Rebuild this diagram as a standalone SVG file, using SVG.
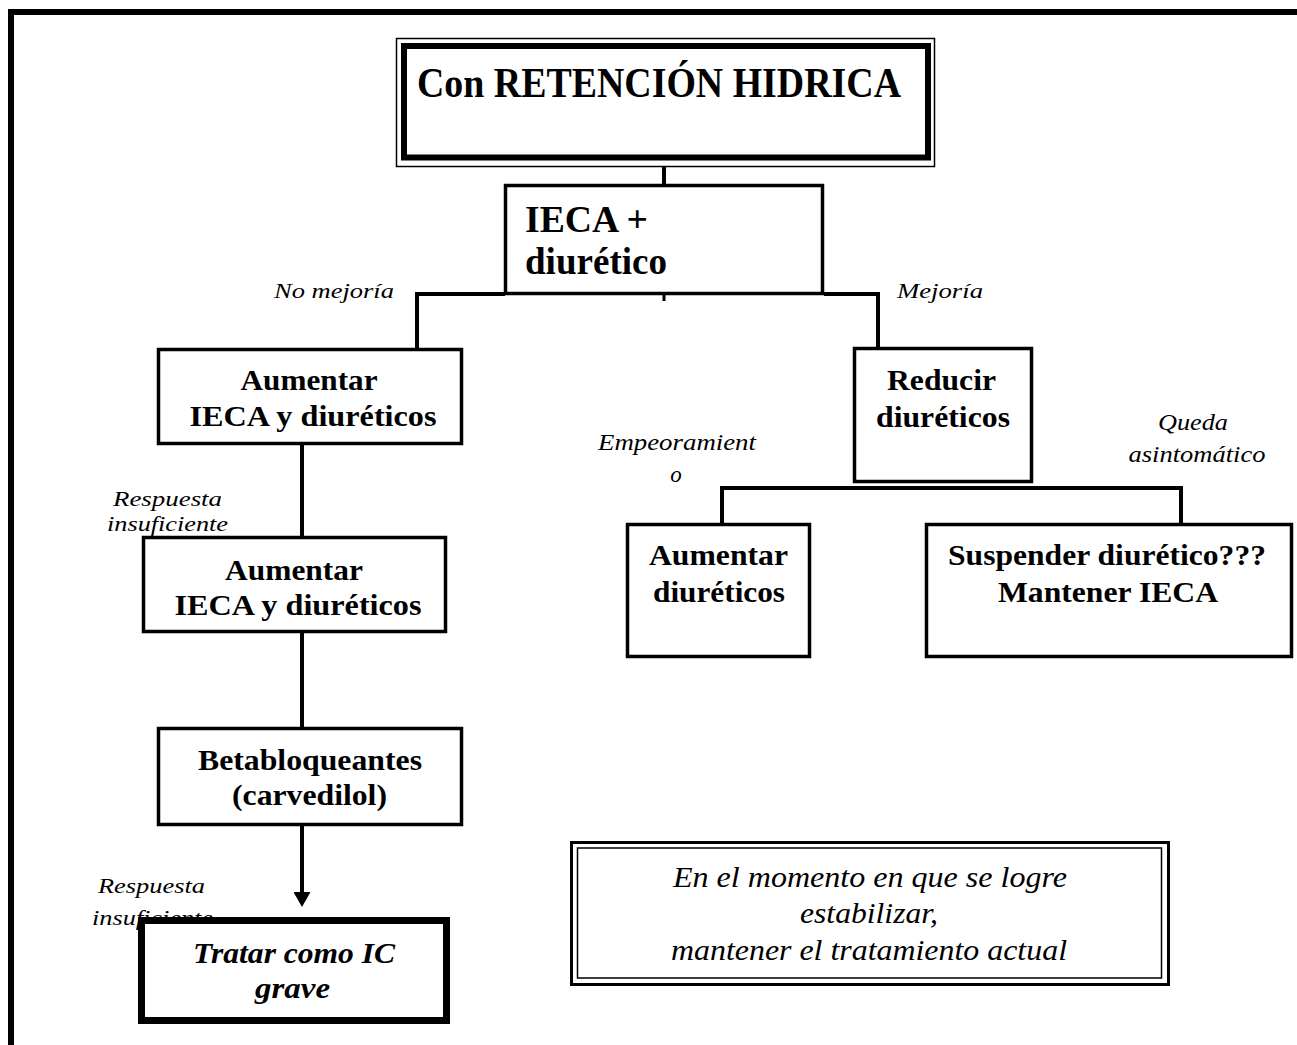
<svg xmlns="http://www.w3.org/2000/svg" width="1297" height="1045" viewBox="0 0 1297 1045" font-family="Liberation Serif, Times New Roman, serif">
<style>
.box{fill:#fff;stroke:#000;stroke-width:3.5}
.c{fill:none;stroke:#000;stroke-width:4}
.b{font-weight:bold}
.i{font-style:italic}
</style>
<defs>
<marker id="ah" viewBox="0 0 15 17" refX="3" refY="8.5" markerWidth="15" markerHeight="17" markerUnits="userSpaceOnUse" orient="auto">
<path d="M0,0 L15,8.5 L0,17 z" fill="#000"/>
</marker>
</defs>
<rect width="1297" height="1045" fill="#fff"/>
<g id="frame">
<path d="M11,1045 V12 H1297" fill="none" stroke="#000" stroke-width="6"/>
</g>
<g id="labels" font-family="Liberation Serif">
<text class="i" x="334" y="298" font-size="22" text-anchor="middle" textLength="120" lengthAdjust="spacingAndGlyphs">No mejoría</text>
<text class="i" x="940" y="298" font-size="22" text-anchor="middle" textLength="86" lengthAdjust="spacingAndGlyphs">Mejoría</text>
<text class="i" x="167.5" y="506" font-size="22" text-anchor="middle" textLength="109" lengthAdjust="spacingAndGlyphs">Respuesta</text>
<text class="i" x="167.5" y="531" font-size="22" text-anchor="middle" textLength="121" lengthAdjust="spacingAndGlyphs">insuficiente</text>
<text class="i" x="151.5" y="893" font-size="22" text-anchor="middle" textLength="107" lengthAdjust="spacingAndGlyphs">Respuesta</text>
<text class="i" x="152.5" y="925" font-size="22" text-anchor="middle" textLength="121" lengthAdjust="spacingAndGlyphs">insuficiente</text>
<text class="i" x="677" y="450" font-size="23" text-anchor="middle" textLength="158" lengthAdjust="spacingAndGlyphs">Empeoramient</text>
<text class="i" x="676" y="482" font-size="23" text-anchor="middle">o</text>
<text class="i" x="1193" y="430" font-size="23" text-anchor="middle" textLength="70" lengthAdjust="spacingAndGlyphs">Queda</text>
<text class="i" x="1197" y="462" font-size="23" text-anchor="middle" textLength="137" lengthAdjust="spacingAndGlyphs">asintomático</text>
</g>
<g id="connectors">
<line class="c" x1="664" y1="167" x2="664" y2="186"/>
<line x1="664" y1="294" x2="664" y2="301" stroke="#000" stroke-width="3"/>
<polyline class="c" points="505,294 417,294 417,348"/>
<polyline class="c" points="824,294 878,294 878,347"/>
<line class="c" x1="302" y1="445" x2="302" y2="536"/>
<line class="c" x1="302" y1="633" x2="302" y2="727"/>
<line class="c" x1="302" y1="826" x2="302" y2="895" marker-end="url(#ah)"/>
<polyline class="c" points="722,523 722,488 1181,488 1181,523"/>
</g>
<g id="n-title">
<rect x="396.5" y="38.5" width="538" height="128" fill="#fff" stroke="#000" stroke-width="1.5"/>
<rect x="404" y="46" width="524" height="111.5" fill="none" stroke="#000" stroke-width="6"/>
<text class="b" x="659" y="97" font-size="42" text-anchor="middle" textLength="484" lengthAdjust="spacingAndGlyphs">Con RETENCIÓN HIDRICA</text>
</g>
<g id="n-ieca">
<rect class="box" x="505.5" y="185.5" width="317" height="108"/>
<text class="b" x="525" y="232" font-size="37" textLength="123" lengthAdjust="spacingAndGlyphs">IECA +</text>
<text class="b" x="525" y="274" font-size="37" textLength="142" lengthAdjust="spacingAndGlyphs">diurético</text>
</g>
<g id="n-aum1">
<rect class="box" x="158.5" y="349.5" width="303" height="94"/>
<text class="b" x="309" y="390" font-size="29" text-anchor="middle" textLength="137" lengthAdjust="spacingAndGlyphs">Aumentar</text>
<text class="b" x="313" y="426" font-size="29" text-anchor="middle" textLength="247" lengthAdjust="spacingAndGlyphs">IECA y diuréticos</text>
</g>
<g id="n-aum2">
<rect class="box" x="143.5" y="537.5" width="302" height="94"/>
<text class="b" x="294" y="580" font-size="29" text-anchor="middle" textLength="138" lengthAdjust="spacingAndGlyphs">Aumentar</text>
<text class="b" x="298" y="615" font-size="29" text-anchor="middle" textLength="247" lengthAdjust="spacingAndGlyphs">IECA y diuréticos</text>
</g>
<g id="n-beta">
<rect class="box" x="158.5" y="728.5" width="303" height="96"/>
<text class="b" x="310" y="770" font-size="29" text-anchor="middle" textLength="224" lengthAdjust="spacingAndGlyphs">Betabloqueantes</text>
<text class="b" x="309.5" y="805" font-size="29" text-anchor="middle" textLength="155" lengthAdjust="spacingAndGlyphs">(carvedilol)</text>
</g>
<g id="n-tratar">
<rect x="141.5" y="920.5" width="305" height="100" fill="#fff" stroke="#000" stroke-width="7"/>
<text class="b i" x="294" y="963" font-size="29" text-anchor="middle" textLength="202" lengthAdjust="spacingAndGlyphs">Tratar como IC</text>
<text class="b i" x="292.5" y="998" font-size="29" text-anchor="middle" textLength="75" lengthAdjust="spacingAndGlyphs">grave</text>
</g>
<g id="n-reducir">
<rect class="box" x="854.5" y="348.5" width="177" height="133"/>
<text class="b" x="941.5" y="390" font-size="29" text-anchor="middle" textLength="109" lengthAdjust="spacingAndGlyphs">Reducir</text>
<text class="b" x="943" y="427" font-size="29" text-anchor="middle" textLength="134" lengthAdjust="spacingAndGlyphs">diuréticos</text>
</g>
<g id="n-aum3">
<rect class="box" x="627.5" y="524.5" width="182" height="132"/>
<text class="b" x="718.5" y="565" font-size="29" text-anchor="middle" textLength="139" lengthAdjust="spacingAndGlyphs">Aumentar</text>
<text class="b" x="719" y="602" font-size="29" text-anchor="middle" textLength="132" lengthAdjust="spacingAndGlyphs">diuréticos</text>
</g>
<g id="n-suspender">
<rect class="box" x="926.5" y="524.5" width="365" height="132"/>
<text class="b" x="1107" y="565" font-size="29" text-anchor="middle" textLength="318" lengthAdjust="spacingAndGlyphs">Suspender diurético???</text>
<text class="b" x="1108" y="602" font-size="29" text-anchor="middle" textLength="220" lengthAdjust="spacingAndGlyphs">Mantener IECA</text>
</g>
<g id="n-nota">
<rect x="571.5" y="842.5" width="597" height="142" fill="#fff" stroke="#000" stroke-width="3"/>
<rect x="577.5" y="848" width="584" height="130" fill="none" stroke="#000" stroke-width="1.5"/>
<text class="i" x="870" y="887" font-size="29" text-anchor="middle" textLength="394" lengthAdjust="spacingAndGlyphs">En el momento en que se logre</text>
<text class="i" x="869" y="923" font-size="29" text-anchor="middle" textLength="138" lengthAdjust="spacingAndGlyphs">estabilizar,</text>
<text class="i" x="869" y="960" font-size="29" text-anchor="middle" textLength="396" lengthAdjust="spacingAndGlyphs">mantener el tratamiento actual</text>
</g>
</svg>
